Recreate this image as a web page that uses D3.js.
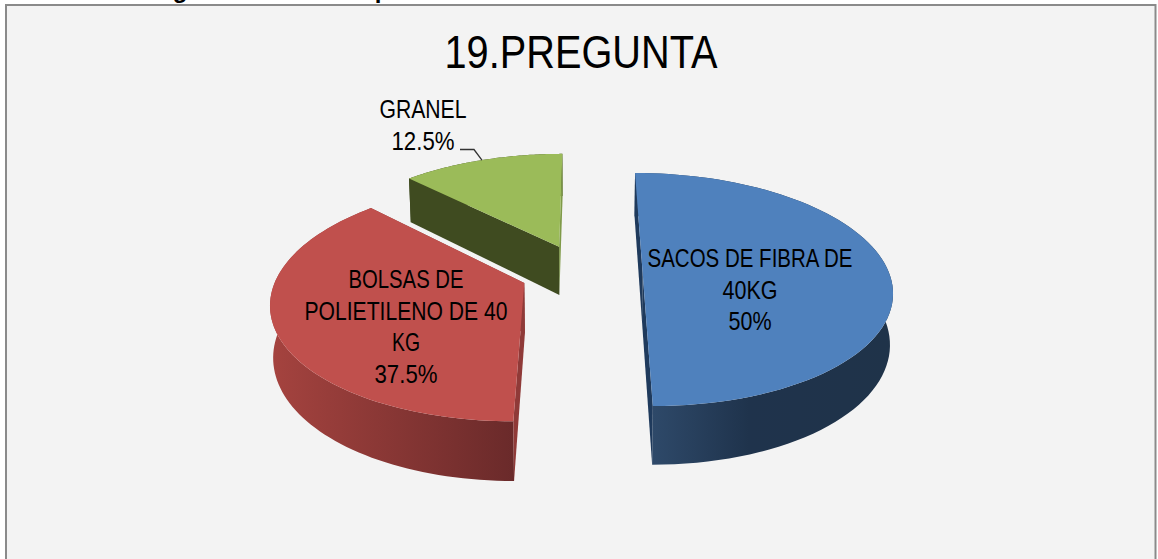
<!DOCTYPE html>
<html>
<head>
<meta charset="utf-8">
<script src="https://cdn.jsdelivr.net/npm/d3@7"></script>
<style>
html,body{margin:0;padding:0;background:#fff;overflow:hidden}
svg{display:block}
text{font-family:"Liberation Sans",Arial,sans-serif;fill:#000}
</style>
</head>
<body>
<svg id="c" width="1158" height="559"></svg>
<script>
const titleText = "19.PREGUNTA";
const categories = ["SACOS DE FIBRA DE 40KG", "BOLSAS DE POLIETILENO DE 40 KG", "GRANEL"];
const values = [50, 37.5, 12.5];
const valueLabels = ["50%", "37.5%", "12.5%"];
const topColors = ["#4f81bd", "#c0504d", "#9bbb59"];
const startFaceColors = ["#1f3a5c", "#8f3a38", "#3f4b20"];
const endFaceColors = ["#1f3a5c", "#8f3a38", "#7f9a48"];
const wallStops = [
  [["#2e4969", 0], ["#1f334c", 0.4], ["#1f3349", 1]],
  [["#a5433f", 0], ["#6a2a2a", 1]],
  [["#3f4b20", 0], ["#3f4b20", 1]]
];
const labelLines = [
  ["SACOS DE FIBRA DE", "40KG", "50%"],
  ["BOLSAS DE", "POLIETILENO DE 40", "KG", "37.5%"],
  ["GRANEL", "12.5%"]
];
const labelWidths = [
  [205, 55, 43],
  [115, 203, 28, 63],
  [87, 63]
];

const W = 1158, H = 559;
const svg = d3.select("#c");
const defs = svg.append("defs");

// Perspective model of the tilted pie
const horizon = -483, vanishX = 585;
const explode = 0.248, hScale = 0.326, depth = 0.066, taper = 0.99;
const invT = d3.scaleLinear().domain([0, 1]).range([0.0013246, 0.0011248]);
const project = (u, v, low) => {
  const t = 1 / invT(v);
  const x = u * hScale * t;
  return low ? [vanishX + x * taper, horizon + t + depth * t] : [vanishX + x, horizon + t];
};

const arcs = d3.pie().sort(null).value(d => d)(values);
const line = d3.line();

svg.append("rect").attr("width", W).attr("height", H).attr("fill", "#fff");
svg.append("rect").attr("x", 6).attr("y", 5).attr("width", 1149.5).attr("height", 570)
  .attr("fill", "#f3f3f3").attr("stroke", "#8a8a8a").attr("stroke-width", 2);

// heading above the frame, cropped by the page edge as in the reference
svg.append("g").attr("font-weight", "bold").attr("font-size", 24)
  .selectAll("text").data([["g", 180], ["p", 382]]).join("text")
  .attr("x", d => d[1]).attr("y", -2).attr("text-anchor", "middle").text(d => d[0]);

const slices = arcs.map((a, i) => {
  const mid = (a.startAngle + a.endAngle) / 2;
  const cu = -0.014 + explode * Math.sin(mid), cv = -explode * Math.cos(mid);
  const pt = (ang, low, r = 1) => project(cu + r * Math.sin(ang), cv - r * Math.cos(ang), low);
  const steps = d3.range(0, 81).map(k => a.startAngle + (a.endAngle - a.startAngle) * k / 80);
  return {i, a, pt, steps};
});

slices.forEach(s => {
  const g = defs.append("linearGradient").attr("id", "wall" + s.i)
    .attr("gradientUnits", "userSpaceOnUse")
    .attr("x1", s.i === 0 ? 653 : 270).attr("x2", s.i === 0 ? 893 : 515).attr("y1", 0).attr("y2", 0);
  wallStops[s.i].forEach(st => g.append("stop").attr("offset", st[1]).attr("stop-color", st[0]));
});

const order = [2, 1, 0];
const sg = svg.append("g").selectAll("g").data(order.map(i => slices[i])).join("g");

// outer wall
sg.append("path").attr("fill", s => `url(#wall${s.i})`).attr("d", s => line(
  s.steps.map(t => s.pt(t, false)).concat(s.steps.slice().reverse().map(t => s.pt(t, true)))
) + "Z");
// radial cut faces
sg.append("path").attr("fill", s => endFaceColors[s.i]).attr("d", s => line([
  s.pt(0, false, 0), s.pt(s.a.endAngle, false), s.pt(s.a.endAngle, true), s.pt(0, true, 0)
]) + "Z");
sg.append("path").attr("fill", s => startFaceColors[s.i]).attr("d", s => line([
  s.pt(0, false, 0), s.pt(s.a.startAngle, false), s.pt(s.a.startAngle, true), s.pt(0, true, 0)
]) + "Z");
// top surface
sg.append("path").attr("fill", s => topColors[s.i]).attr("d", s => line(
  [s.pt(0, false, 0)].concat(s.steps.map(t => s.pt(t, false)))
) + "Z");

svg.append("text").attr("x", 581).attr("y", 68).attr("text-anchor", "middle")
  .attr("font-size", 46).attr("textLength", 273).attr("lengthAdjust", "spacingAndGlyphs")
  .text(titleText);

const labelAnchors = [[750, 267], [406, 288], [423, 118]];
labelLines.forEach((lines, i) => {
  svg.append("g").selectAll("text").data(lines).join("text")
    .attr("x", labelAnchors[i][0])
    .attr("y", (d, k) => labelAnchors[i][1] + k * 31.7)
    .attr("text-anchor", "middle").attr("font-size", 25)
    .attr("textLength", (d, k) => labelWidths[i][k]).attr("lengthAdjust", "spacingAndGlyphs")
    .text(d => d);
});

// leader line for the small slice
svg.append("path").attr("fill", "none").attr("stroke", "#333").attr("stroke-width", 1.3)
  .attr("d", () => {
    const end = slices[2].pt((arcs[2].startAngle + arcs[2].endAngle) / 2, false);
    return line([[460, 149.5], [474, 149.5], end]);
  });
</script>
</body>
</html>
